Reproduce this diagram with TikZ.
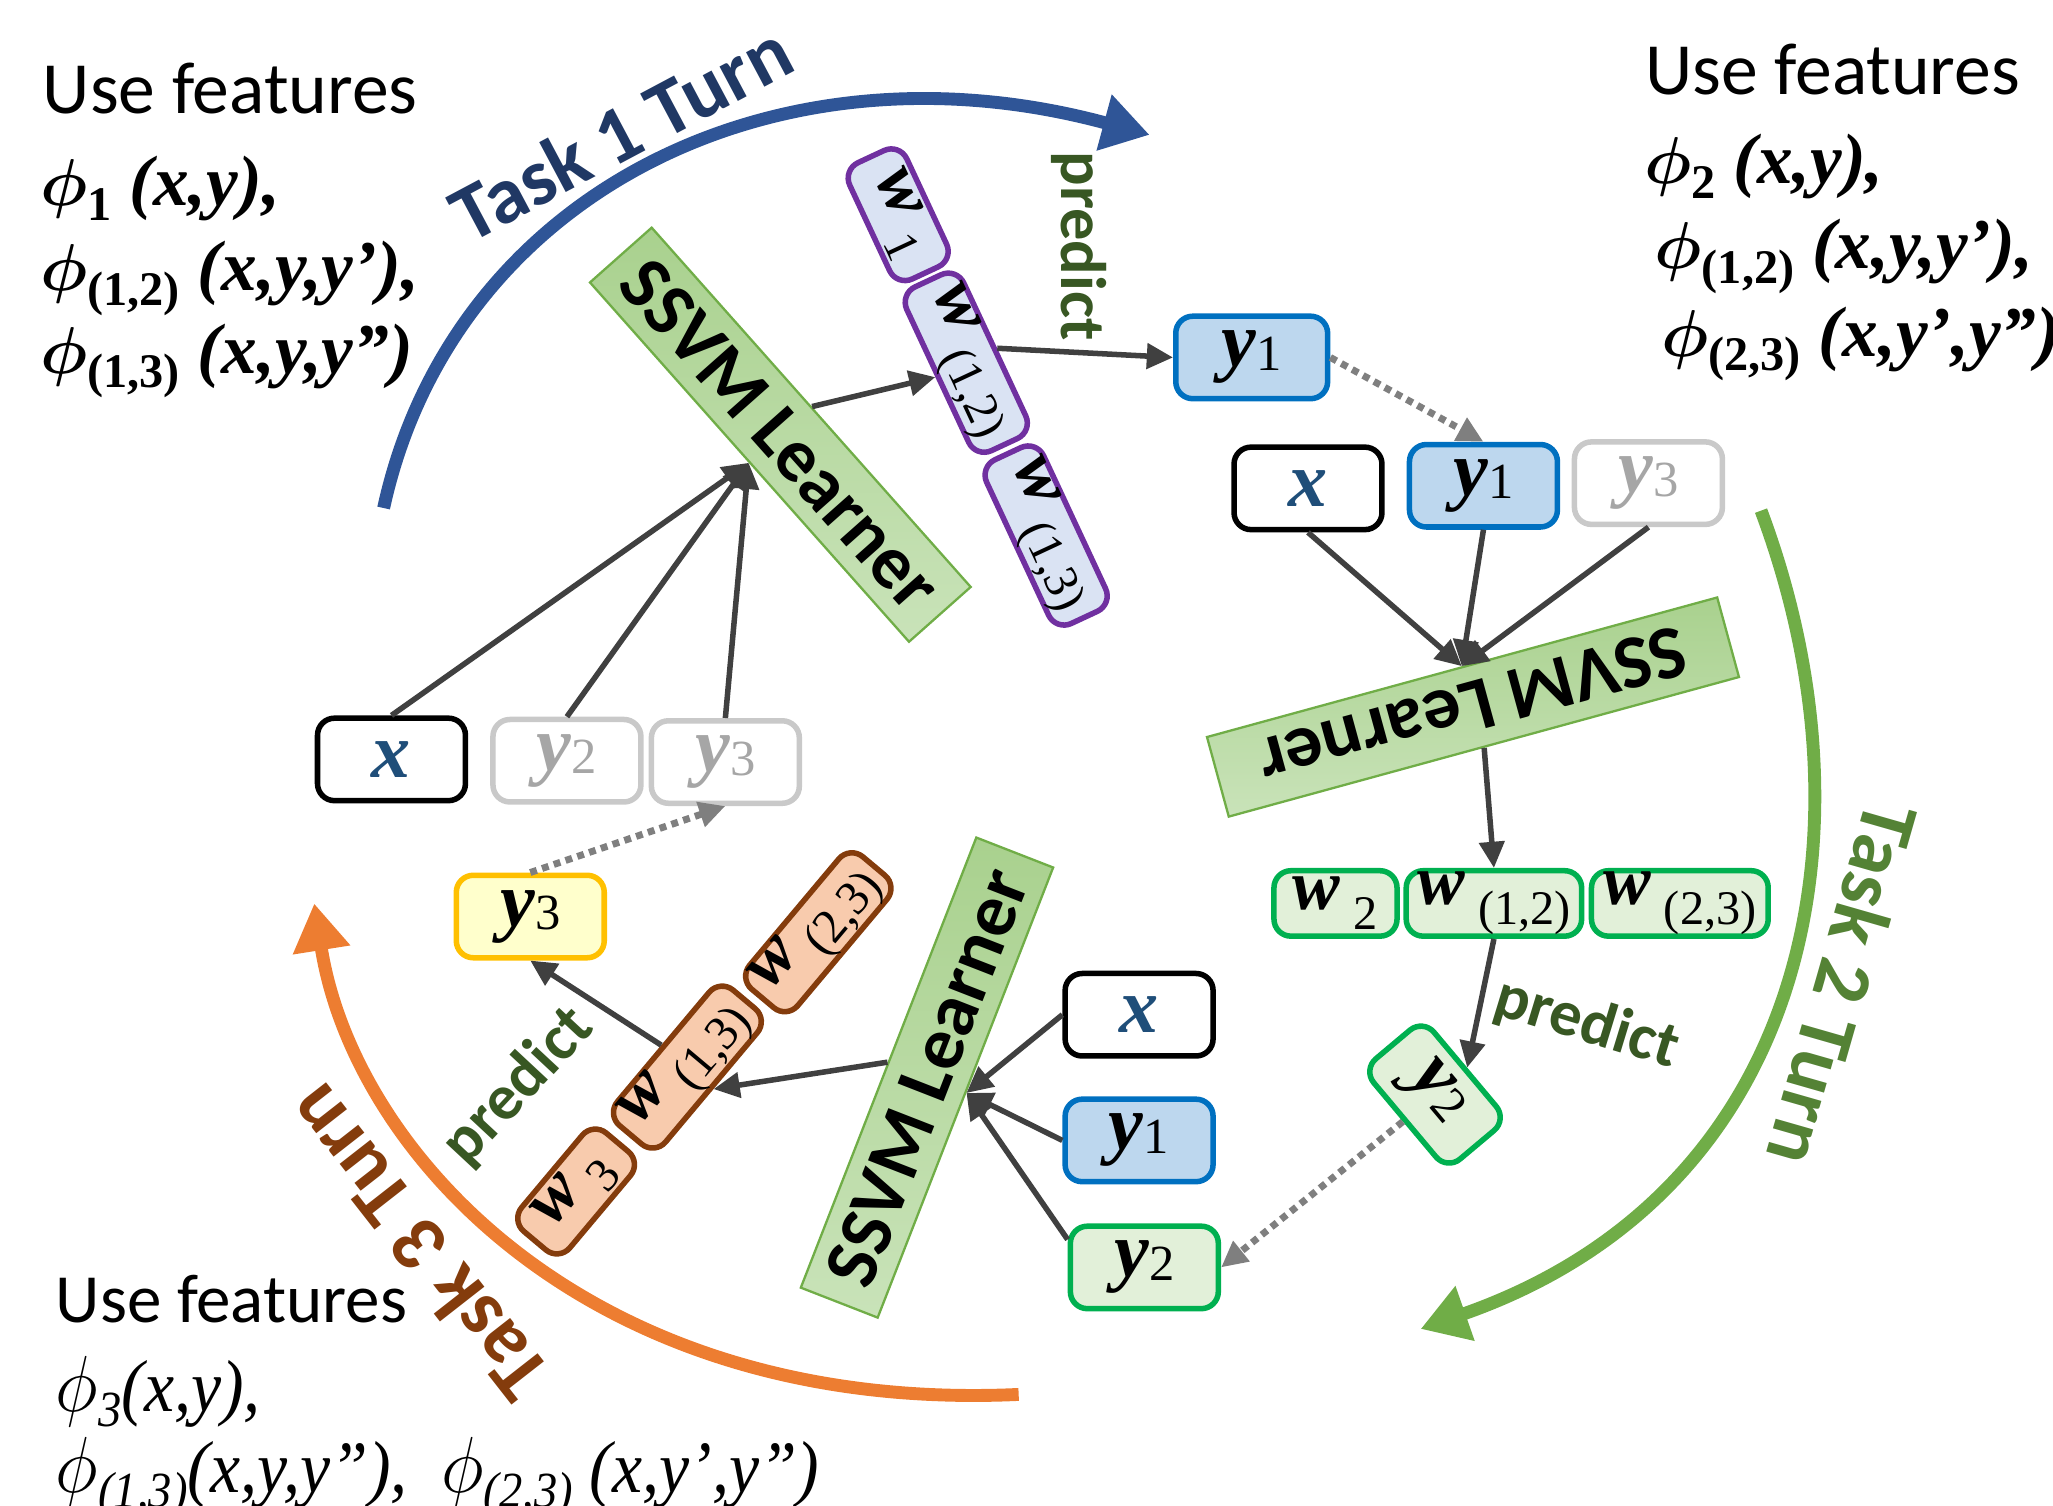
\documentclass[tikz,border=0pt]{standalone}
\usepackage{amsmath}
\usepackage{graphicx}
\usepackage{fontspec}
\setmainfont{Liberation Serif}
\newfontfamily\carl{Carlito}
\usetikzlibrary{arrows.meta}

\definecolor{arcone}{HTML}{2F5597}
\definecolor{txtone}{HTML}{203864}
\definecolor{arctwo}{HTML}{70AD47}
\definecolor{txttwo}{HTML}{548235}
\definecolor{arcthree}{HTML}{ED7D31}
\definecolor{txtthree}{HTML}{843C0C}
\definecolor{predgreen}{HTML}{385723}
\definecolor{arrowgrey}{HTML}{404040}
\definecolor{dotgrey}{HTML}{7F7F7F}
\definecolor{xblue}{HTML}{1F4E79}
\definecolor{greybord}{HTML}{C9C9C9}
\definecolor{greytext}{HTML}{A6A6A6}
\definecolor{bluebord}{HTML}{0070C0}
\definecolor{bluefill}{HTML}{BDD7EE}
\definecolor{greenbord}{HTML}{00B050}
\definecolor{greenfill}{HTML}{E2F0D9}
\definecolor{yellbord}{HTML}{FFC000}
\definecolor{yellfill}{HTML}{FFFFCC}
\definecolor{purpbord}{HTML}{7030A0}
\definecolor{purpfill}{HTML}{DAE3F3}
\definecolor{brownbord}{HTML}{843C0C}
\definecolor{brownfill}{HTML}{F8CBAD}
\definecolor{learnA}{HTML}{A9D18E}
\definecolor{learnB}{HTML}{C9E3B9}

\newcommand{\lowidx}[1]{\raisebox{-0.45ex}{\fontsize{10.5}{10.5}\selectfont\bfseries\upshape #1}}
\newcommand{\lowidxit}[1]{\raisebox{-0.45ex}{\fontsize{11}{11}\selectfont\itshape #1}}
\newcommand{\phib}[1]{$\boldsymbol{\phi}$\lowidx{#1}}
\newcommand{\phir}[1]{$\phi$\lowidxit{#1}}
\newcommand{\xvar}{\textbf{\textit{x}}}
\newcommand{\yvar}[1]{\textbf{\textit{y}}\raisebox{-0.1ex}{\fontsize{11}{11}\selectfont #1}}
\newcommand{\wvar}[1]{{\fontsize{15.5}{15.5}\selectfont\textbf{\textit{w}}}\,\raisebox{-0.55ex}{\fontsize{10.5}{10.5}\selectfont #1}}

\begin{document}
\begin{tikzpicture}[x=0.1mm, y=-0.1mm,
    box/.style={draw, line width=1.2pt, rounded corners=1.3mm, minimum width=1.13cm,
                minimum height=0.63cm, inner sep=0pt, font=\fontsize{17}{17}\selectfont},
    plainbox/.style={box, draw=black, fill=white, text=xblue},
    fadedbox/.style={box, draw=greybord, fill=white, text=greytext},
    bluebox/.style={box, draw=bluebord, fill=bluefill},
    greenbox/.style={draw=greenbord, fill=greenfill},
    yellbox/.style={box, draw=yellbord, fill=yellfill},
    wbox/.style={box, minimum height=0.48cm},
    learner/.style={draw=arctwo, line width=0.5pt, top color=learnA, bottom color=learnB,
                    minimum height=0.63cm, inner sep=0pt,
                    font=\carl\bfseries\fontsize{16.5}{16.5}\selectfont},
    link/.style={draw=arrowgrey, line width=1.2pt, -{Triangle[length=2mm,width=1.9mm]}},
    carry/.style={draw=dotgrey, line width=1.5pt, dash pattern=on 1.5pt off 1.2pt,
                  -{Triangle[length=2mm,width=1.9mm]}},
    turn/.style={line width=2.8pt, -{Triangle[length=3.6mm,width=4.2mm]}},
    turnlbl/.style={inner sep=0pt, font=\carl\bfseries\fontsize{17.5}{17.5}\selectfont},
    pred/.style={inner sep=0pt, text=predgreen, font=\carl\bfseries\fontsize{14}{14}\selectfont},
    usefeat/.style={anchor=base west, inner sep=0pt, font=\carl\fontsize{16}{16}\selectfont},
    feat/.style={anchor=base west, inner sep=0pt, font=\fontsize{15.5}{15.5}\selectfont\bfseries\itshape},
    featlight/.style={anchor=base west, inner sep=0pt, font=\fontsize{16}{16}\selectfont\itshape}]
    \useasboundingbox (0,0) rectangle (1568,1150);

    \draw[turn, draw=arcone] (293,388) .. controls (345,150) and (590,25) .. (878,103);
    \draw[turn, draw=arctwo] (1345,390) .. controls (1435,630) and (1385,910) .. (1085,1015);
    \draw[turn, draw=arcthree] (778,1065) .. controls (450,1080) and (270,880) .. (240,690);
    \node[turnlbl, text=txtone, rotate=28] (t1) at (474,101) {Task 1 Turn};
    \node[turnlbl, text=txttwo, rotate=-106] (t2) at (1408,752) {Task 2 Turn};
    \node[turnlbl, text=txtthree, rotate=128] (t3) at (318,950) {Task 3 Turn};

    \node[usefeat] (u1) at (32,87) {Use features};
    \node[feat] (f1a) at (30,157) {\phib{1} (x,y),};
    \node[feat] (f1b) at (30,222) {\phib{(1,2)} (x,y,y’),};
    \node[feat] (f1c) at (30,285) {\phib{(1,3)} (x,y,y”)};
    \node[usefeat] (u2) at (1256,72) {Use features};
    \node[feat] (f2a) at (1255,140) {\phib{2} (x,y),};
    \node[feat] (f2b) at (1263,205) {\phib{(1,2)} (x,y,y’),};
    \node[feat] (f2c) at (1268,272) {\phib{(2,3)} (x,y’,y”)};
    \node[usefeat, font=\carl\fontsize{15}{15}\selectfont] (u3) at (42,1010) {Use features};
    \node[featlight] (f3a) at (42,1078) {\scalebox{0.92}[1]{\phir{3}(x,y),}};
    \node[featlight] (f3b) at (42,1140) {\scalebox{0.92}[1]{\phir{(1,3)}(x,y,y”),\ \ \phir{(2,3)} (x,y’,y”)}};

    \node[plainbox] (x1) at (299,580) {\xvar};
    \node[fadedbox] (y2a) at (433,581) {\yvar{2}};
    \node[fadedbox] (y3a) at (554,582) {\yvar{3}};
    \node[learner, rotate=-48.4, minimum width=3.67cm] (L1) at (596,332) {SSVM Learner};
    \node[wbox, draw=purpbord, fill=purpfill, rotate=-65, minimum width=0.98cm] (w1a) at (686,164) {\wvar{1}};
    \node[wbox, draw=purpbord, fill=purpfill, rotate=-65, minimum width=1.38cm] (w12a) at (738,277) {\wvar{(1,2)}};
    \node[wbox, draw=purpbord, fill=purpfill, rotate=-65, minimum width=1.38cm] (w13a) at (799,409) {\wvar{(1,3)}};
    \node[pred, rotate=-90] (p1) at (824,188) {predict};
    \node[bluebox, minimum width=1.16cm] (y1a) at (956,273) {\yvar{1}};

    \node[plainbox] (x2) at (999,373) {\xvar};
    \node[bluebox] (y1b) at (1133,371) {\yvar{1}};
    \node[fadedbox] (y3b) at (1259,369) {\yvar{3}};
    \node[learner, rotate=195.3, minimum width=4.04cm] (L2) at (1125,540) {SSVM Learner};
    \node[wbox, greenbox, minimum width=0.94cm, minimum height=0.5cm] (w2b) at (1020,690) {\wvar{2}};
    \node[wbox, greenbox, minimum width=1.34cm, minimum height=0.5cm] (w12b) at (1141,690) {\wvar{(1,2)}};
    \node[wbox, greenbox, minimum width=1.35cm, minimum height=0.5cm] (w23b) at (1283,690) {\wvar{(2,3)}};
    \node[box, greenbox, rotate=-50, minimum width=1.0cm, minimum height=0.6cm] (y2b) at (1096,836) {\yvar{2}};
    \node[pred, rotate=-17] (p2) at (1212,782) {predict};

    \node[plainbox] (x3) at (870,775) {\xvar};
    \node[bluebox] (y1c) at (870,871) {\yvar{1}};
    \node[box, greenbox] (y2c) at (874,968) {\yvar{2}};
    \node[learner, rotate=68.7, minimum width=3.69cm] (L3) at (708,823) {SSVM Learner};
    \node[wbox, draw=brownbord, fill=brownfill, rotate=50, minimum width=0.98cm] (w3c) at (440,910) {\wvar{3}};
    \node[wbox, draw=brownbord, fill=brownfill, rotate=50, minimum width=1.35cm] (w13c) at (525,815) {\wvar{(1,3)}};
    \node[wbox, draw=brownbord, fill=brownfill, rotate=50, minimum width=1.32cm] (w23c) at (625,712) {\wvar{(2,3)}};
    \node[pred, rotate=47] (p3) at (396,830) {predict};
    \node[yellbox] (y3c) at (405,700) {\yvar{3}};

    \draw[link] (x1.north) -- (L1.south);
    \draw[link] (y2a.north) -- (L1.south);
    \draw[link] (y3a.north) -- (L1.south);
    \draw[link] (L1.north) -- (w12a.south);
    \draw[link] (w12a.north) -- (y1a.west);
    \draw[carry] (y1a.east) -- (y1b.north);

    \draw[link] (x2.south) -- (L2.south);
    \draw[link] (y1b.south) -- (L2.south);
    \draw[link] (y3b.south) -- (L2.south);
    \draw[link] (L2.north) -- (w12b.north);
    \draw[link] (w12b.south) -- (y2b.north);
    \draw[carry] (y2b.south) -- (y2c.east);

    \draw[link] (x3.west) -- (L3.south);
    \draw[link] (y1c.west) -- (L3.south);
    \draw[link] (y2c.160) -- (L3.south);
    \draw[link] (L3.north) -- (w13c.south);
    \draw[link] (w13c.north) -- (y3c.south);
    \draw[carry] (y3c.north) -- (y3a.south);
\end{tikzpicture}
\end{document}
